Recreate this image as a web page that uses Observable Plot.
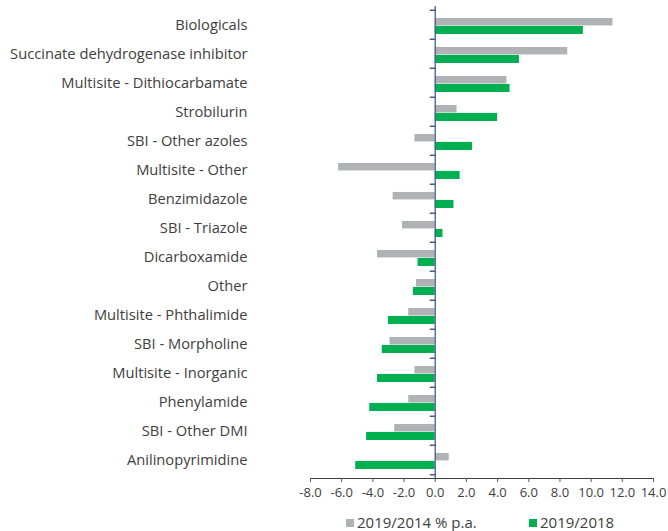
<!DOCTYPE html>
<html>
<head>
<meta charset="utf-8">
<script src="https://cdn.jsdelivr.net/npm/d3@7"></script>
<script src="https://cdn.jsdelivr.net/npm/@observablehq/plot@0.6"></script>
<style>
  html, body { margin: 0; padding: 0; background: #fff; }
  #chart { width: 668px; font-family: "Open Sans", sans-serif; color: #333; position: relative; }
  #legend { position: relative; height: 26px; font-size: 15px; line-height: 15px; color: #404040; }
  .key { display: flex; align-items: center; position: absolute; top: 10px; }
  .swatch { width: 8px; height: 8px; margin-right: 3px; }
</style>
</head>
<body>
<div id="chart"></div>
<script>
// Fungicide classes, growth rates in %
const categories = [
  "Biologicals",
  "Succinate dehydrogenase inhibitor",
  "Multisite - Dithiocarbamate",
  "Strobilurin",
  "SBI - Other azoles",
  "Multisite - Other",
  "Benzimidazole",
  "SBI - Triazole",
  "Dicarboxamide",
  "Other",
  "Multisite - Phthalimide",
  "SBI - Morpholine",
  "Multisite - Inorganic",
  "Phenylamide",
  "SBI - Other DMI",
  "Anilinopyrimidine"
];
const seriesNames = ["2019/2014 % p.a.", "2019/2018"];
const growthPerYear = [11.4, 8.5, 4.6, 1.4, -1.3, -6.2, -2.7, -2.1, -3.7, -1.2, -1.7, -2.9, -1.3, -1.7, -2.6, 0.9];
const growthLastYear = [9.5, 5.4, 4.8, 4.0, 2.4, 1.6, 1.2, 0.5, -1.1, -1.4, -3.0, -3.4, -3.7, -4.2, -4.4, -5.1];
const xTicks = [-8, -6, -4, -2, 0, 2, 4, 6, 8, 10, 12, 14];

const colors = ["#b1b2b5", "#00b050"];
const axisBlue = "#4b5b8e";

const rows = categories.map((c, i) => ({category: c, a: growthPerYear[i], b: growthLastYear[i]}));

const width = 668, height = 505;
const marginTop = 6, marginBottom = 27, marginLeft = 310, marginRight = 15;
const band = (height - marginTop - marginBottom) / categories.length;

// plain hyphen for negatives, one decimal
const fmt = d => d.toFixed(1);

// short horizontal stroke pointing left from the zero line
const tickShape = {draw(context, l) { context.moveTo(0, 0); context.lineTo(0, -l); }};

const chart = Plot.plot({
  width, height, marginTop, marginBottom, marginLeft, marginRight,
  style: {fontFamily: "'Open Sans', sans-serif", fontSize: "13px", color: "#404040", background: "#fff"},
  x: {domain: [-8, 14], ticks: xTicks, tickFormat: fmt, tickSize: 4, tickPadding: 5, label: null, line: true},
  y: {domain: categories, padding: 0, label: null},
  marks: [
    Plot.axisY({tickSize: 0, tickPadding: 63, fontSize: 14.7, dy: 0, label: null}),
    Plot.barX(rows, {x: "a", y: "category", fill: colors[0], insetTop: band * 0.27, insetBottom: band * 0.46}),
    Plot.barX(rows, {x: "b", y: "category", fill: colors[1], insetTop: band * 0.54, insetBottom: band * 0.17}),
    Plot.ruleX([0], {stroke: axisBlue, strokeWidth: 1.3}),
    // category separators on the zero line
    Plot.vector(categories, {x: () => 0, y: d => d, length: 5, rotate: -90, anchor: "start", shape: tickShape, dy: -band / 2, stroke: axisBlue, strokeWidth: 1.3}),
    Plot.vector(categories.slice(-1), {x: () => 0, y: d => d, length: 5, rotate: -90, anchor: "start", shape: tickShape, dy: band / 2, stroke: axisBlue, strokeWidth: 1.3})
  ]
});
chart.querySelectorAll("[aria-label='x-axis tick'], [aria-label='x-axis line']").forEach(el => el.setAttribute("stroke", "#595959"));
document.getElementById("chart").append(chart);

// legend
const legend = document.createElement("div");
legend.id = "legend";
const offsets = [346, 529];
seriesNames.forEach((name, i) => {
  const key = document.createElement("div");
  key.className = "key";
  key.style.left = offsets[i] + "px";
  const sw = document.createElement("span");
  sw.className = "swatch";
  sw.style.background = colors[i];
  const label = document.createElement("span");
  label.textContent = name;
  key.append(sw, label);
  legend.append(key);
});
document.getElementById("chart").append(legend);
</script>
</body>
</html>
